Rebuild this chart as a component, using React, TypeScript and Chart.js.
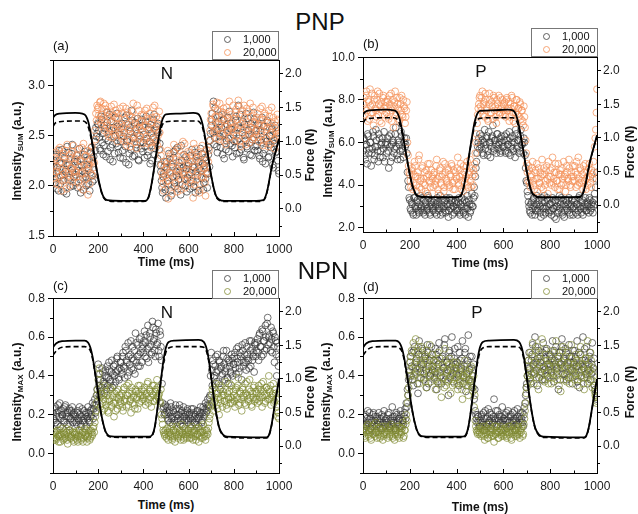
import React, { useEffect, useRef } from "react";
import { Chart, registerables } from "chart.js";

Chart.register(...registerables);

// ---------- DATA ----------
// Two interleaved acquisitions per series: set A sampled at i*STEP_MS, set B at i*STEP_MS + STEP_MS/2
const STEP_MS = 5;

const PNP_N_1000 = [
  2.12, 2.25, 2.03, 2.31, 2.18, 1.95, 2.22, 2.10, 2.36, 2.05, 2.28, 2.14, 1.92, 2.20, 2.33, 2.08, 2.17, 2.41, 2.00, 2.24,
  2.11, 2.30, 1.98, 2.19, 2.06, 2.27, 2.15, 1.96, 2.34, 2.09, 2.21, 2.02, 2.26, 2.13, 2.38, 2.04, 2.29, 2.44, 2.58, 2.52,
  2.61, 2.48, 2.35, 2.66, 2.52, 2.40, 2.57, 2.29, 2.63, 2.45, 2.71, 2.38, 2.55, 2.24, 2.49, 2.68, 2.42, 2.59, 2.33, 2.51,
  2.44, 2.62, 2.27, 2.53, 2.39, 2.70, 2.46, 2.21, 2.58, 2.36, 2.65, 2.48, 2.30, 2.56, 2.41, 2.67, 2.25, 2.50, 2.37, 2.60,
  2.43, 2.28, 2.64, 2.47, 2.34, 2.58, 2.22, 2.52, 2.40, 2.66, 2.31, 2.55, 2.45, 2.62, 2.36, 2.20, 2.05, 1.93, 2.12, 2.24,
  1.88, 2.16, 2.02, 2.27, 1.95, 2.21, 2.09, 2.34, 1.99, 2.14, 2.38, 2.06, 2.19, 1.91, 2.25, 2.11, 2.31, 2.00, 2.17, 2.08,
  2.22, 1.97, 2.13, 2.36, 2.04, 2.18, 1.93, 2.29, 2.10, 2.24, 2.01, 2.15, 2.32, 1.96, 2.20, 2.07, 2.26, 2.12, 2.38, 2.45,
  2.60, 2.72, 2.84, 2.48, 2.63, 2.39, 2.55, 2.70, 2.44, 2.58, 2.31, 2.66, 2.50, 2.36, 2.61, 2.47, 2.74, 2.42, 2.56, 2.29,
  2.53, 2.38, 2.69, 2.45, 2.80, 2.33, 2.57, 2.41, 2.64, 2.26, 2.50, 2.72, 2.37, 2.55, 2.43, 2.62, 2.30, 2.48, 2.66, 2.39,
  2.51, 2.35, 2.60, 2.27, 2.46, 2.68, 2.32, 2.54, 2.22, 2.44, 2.63, 2.29, 2.49, 2.38, 2.57, 2.18, 2.42, 2.33, 2.52, 2.25,
  2.12,
];
const PNP_N_1000_B = [
  2.19, 2.07, 2.29, 1.97, 2.14, 2.35, 2.02, 2.23, 2.11, 1.94, 2.27, 2.16, 2.39, 2.06, 2.21, 1.99, 2.32, 2.13, 2.09, 2.26,
  2.03, 2.24, 2.15, 2.37, 1.93, 2.20, 2.08, 2.31, 2.12, 2.00, 2.25, 2.17, 1.95, 2.33, 2.10, 2.22, 2.06, 2.35, 2.49, 2.62,
  2.55, 2.37, 2.69, 2.43, 2.31, 2.60, 2.47, 2.73, 2.34, 2.54, 2.26, 2.64, 2.41, 2.58, 2.32, 2.50, 2.72, 2.39, 2.61, 2.28,
  2.57, 2.35, 2.49, 2.68, 2.23, 2.44, 2.61, 2.32, 2.54, 2.75, 2.29, 2.47, 2.63, 2.38, 2.52, 2.26, 2.59, 2.43, 2.66, 2.34,
  2.51, 2.39, 2.69, 2.30, 2.56, 2.44, 2.61, 2.25, 2.48, 2.71, 2.37, 2.59, 2.27, 2.53, 2.42, 2.14, 1.98, 2.09, 2.19, 1.96,
  2.24, 2.05, 2.32, 2.13, 1.90, 2.19, 2.28, 2.03, 2.36, 2.10, 1.97, 2.23, 2.15, 2.40, 2.01, 2.18, 2.07, 2.29, 1.94, 2.20,
  2.11, 2.30, 2.05, 2.19, 1.99, 2.33, 2.14, 2.25, 1.95, 2.17, 2.37, 2.08, 2.22, 2.03, 2.28, 2.12, 1.98, 2.31, 2.19, 2.52,
  2.66, 2.53, 2.41, 2.77, 2.56, 2.33, 2.64, 2.49, 2.38, 2.71, 2.52, 2.27, 2.59, 2.45, 2.68, 2.34, 2.57, 2.62, 2.40, 2.51,
  2.44, 2.65, 2.32, 2.58, 2.47, 2.71, 2.36, 2.53, 2.28, 2.61, 2.45, 2.39, 2.67, 2.51, 2.31, 2.58, 2.46, 2.73, 2.35, 2.55,
  2.40, 2.62, 2.30, 2.55, 2.43, 2.24, 2.59, 2.36, 2.47, 2.65, 2.28, 2.50, 2.41, 2.56, 2.21, 2.45, 2.60, 2.34, 2.47, 2.15,
];

const PNP_N_20000 = [
  2.20, 2.08, 2.33, 2.14, 2.26, 2.01, 2.38, 2.17, 2.05, 2.29, 2.12, 2.35, 1.97, 2.23, 2.10, 2.31, 2.18, 2.04, 2.40, 2.15,
  2.27, 2.09, 2.36, 2.19, 1.99, 2.24, 2.13, 2.42, 2.06, 2.30, 2.16, 1.91, 2.21, 2.34, 2.11, 2.25, 2.18, 2.55, 2.72, 2.80,
  2.78, 2.66, 2.84, 2.71, 2.59, 2.82, 2.64, 2.76, 2.52, 2.69, 2.57, 2.74, 2.48, 2.63, 2.81, 2.55, 2.67, 2.44, 2.72, 2.58,
  2.61, 2.47, 2.79, 2.53, 2.66, 2.40, 2.73, 2.56, 2.45, 2.69, 2.51, 2.82, 2.43, 2.62, 2.37, 2.58, 2.75, 2.49, 2.64, 2.54,
  2.70, 2.46, 2.59, 2.77, 2.42, 2.65, 2.52, 2.38, 2.68, 2.57, 2.80, 2.44, 2.61, 2.50, 2.74, 2.36, 2.21, 2.08, 1.95, 2.16,
  2.04, 2.22, 1.87, 2.13, 2.31, 2.00, 2.18, 2.41, 2.09, 2.26, 1.94, 2.15, 2.35, 2.07, 2.20, 2.44, 2.11, 1.98, 2.28, 2.16,
  2.10, 2.33, 2.02, 2.24, 1.88, 2.19, 2.37, 2.06, 2.14, 2.29, 1.96, 2.21, 2.40, 2.08, 2.17, 1.90, 2.26, 2.12, 2.35, 2.55,
  2.72, 2.60, 2.79, 2.53, 2.68, 2.83, 2.57, 2.46, 2.74, 2.62, 2.51, 2.77, 2.65, 2.41, 2.70, 2.56, 2.84, 2.49, 2.63, 2.58,
  2.67, 2.45, 2.76, 2.55, 2.85, 2.60, 2.39, 2.71, 2.52, 2.80, 2.47, 2.64, 2.57, 2.74, 2.43, 2.69, 2.53, 2.78, 2.48, 2.62,
  2.56, 2.72, 2.44, 2.65, 2.51, 2.79, 2.40, 2.60, 2.70, 2.47, 2.58, 2.75, 2.42, 2.63, 2.53, 2.68, 2.37, 2.57, 2.49, 2.66,
  2.50,
];
const PNP_N_20000_B = [
  2.11, 2.28, 2.02, 2.19, 2.36, 2.09, 2.24, 1.95, 2.15, 2.32, 2.06, 2.21, 2.41, 2.13, 2.00, 2.27, 2.17, 2.34, 2.08, 2.22,
  2.14, 2.31, 2.03, 2.25, 2.12, 2.38, 1.96, 2.20, 2.29, 2.07, 2.35, 2.18, 2.02, 2.26, 2.39, 2.10, 2.23, 2.46, 2.65, 2.76,
  2.70, 2.83, 2.62, 2.77, 2.68, 2.55, 2.80, 2.60, 2.73, 2.49, 2.66, 2.79, 2.57, 2.70, 2.51, 2.75, 2.61, 2.68, 2.53, 2.77,
  2.50, 2.72, 2.59, 2.44, 2.77, 2.62, 2.52, 2.70, 2.39, 2.60, 2.74, 2.48, 2.67, 2.55, 2.80, 2.46, 2.63, 2.57, 2.71, 2.42,
  2.60, 2.75, 2.49, 2.67, 2.55, 2.72, 2.43, 2.63, 2.78, 2.47, 2.58, 2.69, 2.40, 2.66, 2.53, 2.30, 2.12, 2.02, 2.24, 2.10,
  2.19, 2.35, 2.05, 2.27, 2.12, 1.92, 2.23, 2.33, 2.02, 2.17, 2.38, 2.10, 2.25, 1.96, 2.30, 2.14, 2.42, 2.05, 2.21, 2.34,
  2.25, 2.06, 2.30, 2.15, 2.42, 2.01, 2.27, 2.11, 2.33, 1.93, 2.23, 2.09, 2.31, 2.18, 2.03, 2.36, 2.14, 2.24, 2.45, 2.66,
  2.64, 2.81, 2.55, 2.69, 2.47, 2.75, 2.61, 2.82, 2.52, 2.66, 2.73, 2.44, 2.59, 2.78, 2.54, 2.67, 2.48, 2.71, 2.57, 2.80,
  2.59, 2.73, 2.50, 2.66, 2.79, 2.44, 2.62, 2.75, 2.55, 2.68, 2.41, 2.77, 2.60, 2.50, 2.82, 2.58, 2.46, 2.70, 2.63, 2.54,
  2.68, 2.48, 2.61, 2.77, 2.54, 2.66, 2.45, 2.72, 2.56, 2.63, 2.39, 2.69, 2.51, 2.78, 2.59, 2.46, 2.64, 2.54, 2.71, 2.52,
];

const PNP_P_1000 = [
  5.6, 6.1, 5.2, 5.9, 6.4, 5.5, 6.0, 4.9, 5.7, 6.3, 5.4, 6.6, 5.8, 5.1, 6.2, 5.6, 6.0, 5.3, 6.5, 5.9,
  5.5, 6.2, 4.8, 5.8, 6.4, 5.3, 6.0, 5.7, 6.7, 5.4, 6.1, 5.9, 5.2, 6.3, 5.6, 6.0, 5.8, 6.2, 4.6, 3.9,
  3.3, 2.8, 3.1, 2.6, 3.4, 2.9, 3.2, 3.0, 2.7, 3.5, 3.0, 2.8, 3.3, 2.6, 3.1, 2.9, 3.4, 2.7, 3.2, 3.0,
  2.8, 3.3, 3.0, 2.6, 3.2, 2.9, 3.5, 3.1, 2.7, 3.0, 3.3, 2.8, 3.1, 2.5, 3.4, 2.9, 3.2, 3.0, 2.7, 3.3,
  3.1, 2.8, 3.4, 2.6, 3.0, 3.2, 2.7, 3.3, 2.9, 3.5, 2.5, 3.1, 2.8, 3.6, 3.0, 3.9, 4.4, 5.1, 5.8, 6.2,
  6.4, 5.8, 6.1, 5.4, 6.6, 5.9, 6.3, 5.6, 6.0, 5.3, 6.2, 6.8, 5.7, 6.1, 5.5, 6.4, 5.9, 6.2, 5.6, 6.0,
  5.8, 6.3, 5.5, 6.1, 5.9, 6.5, 5.4, 6.0, 5.7, 6.2, 5.3, 6.4, 5.8, 6.1, 5.6, 6.6, 5.9, 5.5, 6.0, 4.8,
  4.1, 3.5, 3.0, 2.7, 3.2, 2.9, 3.4, 2.6, 3.1, 2.8, 3.3, 3.0, 2.5, 3.2, 2.9, 3.5, 2.7, 3.0, 3.3, 2.8,
  3.1, 2.6, 3.4, 2.9, 3.2, 2.4, 3.0, 2.8, 3.5, 3.1, 2.7, 3.3, 2.5, 3.0, 3.2, 2.8, 3.4, 2.6, 3.1, 2.9,
  3.0, 3.3, 2.7, 3.1, 2.8, 3.5, 2.9, 3.2, 2.6, 3.0, 3.4, 2.8, 3.1, 2.7, 3.3, 2.9, 3.2, 3.0, 3.6, 3.9,
  4.6,
];
const PNP_P_1000_B = [
  6.2, 5.4, 5.9, 5.0, 6.3, 5.7, 6.0, 5.5, 6.5, 5.2, 5.8, 6.1, 5.6, 6.4, 5.3, 5.9, 6.2, 5.7, 5.1, 6.0,
  5.9, 5.6, 6.3, 5.1, 5.9, 6.1, 5.5, 6.4, 5.8, 5.2, 6.0, 5.6, 6.5, 5.7, 5.3, 6.2, 5.9, 5.5, 4.2, 3.4,
  2.9, 3.2, 2.7, 3.4, 3.0, 2.6, 3.3, 2.8, 3.1, 2.9, 3.4, 2.7, 3.0, 3.2, 2.8, 3.5, 3.0, 2.6, 3.1, 2.9,
  3.2, 2.7, 3.1, 3.4, 2.8, 3.0, 2.6, 3.3, 2.9, 3.2, 2.7, 3.4, 3.0, 2.8, 3.1, 3.3, 2.6, 3.0, 3.2, 2.8,
  2.9, 3.2, 2.7, 3.1, 3.4, 2.8, 3.0, 2.6, 3.2, 2.9, 3.3, 2.7, 3.1, 3.0, 3.4, 3.5, 4.8, 5.5, 6.0, 5.7,
  5.9, 6.3, 5.5, 6.0, 5.7, 6.2, 5.4, 6.5, 6.0, 5.8, 6.3, 5.6, 6.1, 5.9, 6.4, 5.7, 6.0, 5.5, 6.3, 5.8,
  6.1, 5.6, 6.4, 5.9, 5.5, 6.2, 5.8, 6.3, 5.6, 6.0, 6.6, 5.7, 6.1, 5.5, 6.3, 5.9, 6.0, 6.2, 5.4, 4.2,
  3.7, 3.2, 2.8, 3.1, 2.6, 3.3, 3.0, 2.8, 3.5, 2.9, 3.1, 2.7, 3.4, 3.0, 2.6, 3.2, 2.9, 3.4, 2.7, 3.1,
  2.8, 3.2, 2.9, 2.5, 3.3, 3.0, 2.7, 3.2, 2.9, 3.4, 2.6, 3.1, 2.8, 3.3, 2.9, 3.1, 2.7, 3.0, 3.3, 2.6,
  3.2, 2.9, 3.1, 2.6, 3.4, 3.0, 2.7, 3.3, 2.9, 3.1, 2.8, 3.2, 3.0, 3.4, 2.8, 3.1, 2.7, 3.3, 3.1, 4.3,
];

const PNP_P_20000 = [
  7.2, 8.1, 7.6, 8.4, 7.0, 7.9, 8.5, 7.4, 7.8, 6.8, 8.2, 7.5, 8.0, 7.3, 8.3, 7.7, 6.9, 8.1, 7.6, 7.9,
  7.4, 8.0, 7.1, 7.8, 8.3, 7.5, 6.7, 7.9, 7.3, 8.1, 7.6, 7.0, 7.8, 8.2, 7.2, 7.7, 6.9, 7.5, 6.0, 4.9,
  4.5, 3.9, 4.8, 4.1, 5.1, 4.4, 3.7, 4.6, 5.4, 4.2, 3.8, 4.9, 4.3, 4.0, 4.7, 3.6, 4.5, 5.0, 4.1, 4.4,
  3.9, 4.6, 4.2, 5.2, 3.8, 4.4, 4.8, 4.0, 4.5, 3.7, 5.0, 4.3, 4.1, 4.7, 3.9, 4.4, 4.9, 3.8, 4.2, 4.6,
  4.3, 5.3, 4.0, 4.7, 3.8, 4.5, 4.9, 4.1, 4.4, 5.1, 3.9, 4.6, 4.2, 4.8, 4.0, 4.5, 5.5, 6.4, 7.3, 7.8,
  8.2, 7.5, 8.4, 7.8, 7.2, 8.0, 7.6, 7.0, 8.3, 7.4, 7.9, 7.1, 8.1, 7.7, 6.9, 7.8, 8.2, 7.3, 7.6, 8.0,
  7.5, 7.9, 7.2, 8.1, 7.6, 7.0, 7.8, 8.2, 7.4, 7.7, 6.9, 8.0, 7.3, 7.6, 7.9, 7.1, 7.5, 6.8, 7.2, 6.1,
  5.0, 4.2, 4.7, 3.9, 4.5, 5.1, 4.0, 4.6, 4.3, 3.7, 4.8, 4.1, 4.4, 5.2, 3.8, 4.5, 4.2, 4.9, 3.6, 4.4,
  4.7, 4.0, 5.3, 4.3, 3.9, 4.6, 4.2, 5.0, 3.8, 4.5, 4.8, 4.1, 4.4, 3.7, 4.9, 4.3, 5.2, 4.0, 4.6, 4.2,
  4.4, 4.9, 3.9, 4.5, 5.3, 4.1, 4.7, 4.2, 3.8, 4.6, 5.0, 4.3, 4.0, 4.8, 4.4, 3.9, 4.5, 5.1, 5.8, 6.6,
  8.5,
];
const PNP_P_20000_B = [
  7.8, 7.3, 8.2, 7.5, 8.0, 7.1, 7.7, 8.3, 7.4, 8.0, 7.6, 7.2, 8.4, 7.8, 7.0, 7.9, 7.5, 8.2, 7.3, 7.7,
  7.9, 7.2, 8.2, 7.6, 7.0, 8.0, 7.7, 8.4, 7.4, 7.8, 7.1, 8.1, 7.5, 7.3, 8.0, 7.6, 7.2, 7.9, 5.4, 4.6,
  4.2, 4.7, 3.8, 4.5, 4.9, 4.0, 4.4, 5.2, 3.9, 4.3, 4.8, 4.1, 4.6, 3.7, 4.4, 5.0, 4.2, 3.9, 4.7, 4.3,
  4.5, 4.0, 4.9, 4.3, 3.6, 4.7, 4.1, 4.4, 5.1, 3.9, 4.6, 4.2, 4.8, 4.0, 4.5, 5.0, 4.1, 4.7, 3.8, 4.4,
  4.8, 4.1, 4.4, 5.0, 4.2, 3.7, 4.6, 4.3, 4.9, 4.0, 4.5, 5.2, 3.9, 4.4, 4.7, 5.0, 6.0, 6.9, 7.6, 8.1,
  7.7, 8.1, 7.3, 7.9, 8.3, 7.5, 7.1, 7.8, 8.0, 7.4, 7.7, 8.2, 7.5, 7.2, 8.0, 7.6, 7.4, 8.1, 7.7, 7.3,
  7.8, 7.3, 8.0, 7.5, 7.9, 7.2, 7.6, 8.1, 7.0, 7.7, 7.4, 8.0, 7.6, 7.2, 7.8, 7.5, 7.0, 7.7, 6.7, 5.5,
  4.6, 4.9, 4.1, 4.4, 4.8, 4.2, 3.8, 4.7, 5.0, 4.3, 4.1, 4.6, 3.9, 4.5, 4.8, 4.0, 4.7, 4.3, 5.1, 4.1,
  4.4, 4.8, 4.1, 4.6, 5.0, 4.2, 3.8, 4.5, 4.7, 4.0, 4.3, 5.1, 4.5, 4.0, 4.6, 4.2, 4.8, 3.9, 4.4, 4.9,
  4.2, 4.6, 5.1, 4.0, 4.3, 4.8, 4.1, 4.5, 4.9, 4.2, 3.8, 4.6, 4.4, 5.0, 4.1, 4.7, 4.3, 4.6, 6.2, 7.4,
];

const NPN_N_1000 = [
  0.21, 0.17, 0.24, 0.19, 0.15, 0.22, 0.26, 0.18, 0.20, 0.23, 0.16, 0.25, 0.19, 0.21, 0.14, 0.22, 0.18, 0.24, 0.20, 0.17,
  0.19, 0.15, 0.22, 0.17, 0.20, 0.14, 0.23, 0.18, 0.16, 0.21, 0.19, 0.24, 0.17, 0.22, 0.20, 0.26, 0.23, 0.28, 0.25, 0.33,
  0.46, 0.30, 0.38, 0.34, 0.42, 0.36, 0.40, 0.33, 0.45, 0.39, 0.43, 0.37, 0.48, 0.41, 0.35, 0.46, 0.42, 0.50, 0.39, 0.44,
  0.47, 0.41, 0.52, 0.44, 0.55, 0.48, 0.40, 0.50, 0.46, 0.58, 0.49, 0.43, 0.53, 0.62, 0.47, 0.56, 0.51, 0.45, 0.60, 0.54,
  0.52, 0.63, 0.57, 0.49, 0.66, 0.55, 0.60, 0.51, 0.68, 0.58, 0.53, 0.64, 0.56, 0.67, 0.50, 0.61, 0.48, 0.26, 0.24, 0.21,
  0.20, 0.24, 0.17, 0.22, 0.26, 0.18, 0.15, 0.21, 0.19, 0.23, 0.16, 0.20, 0.25, 0.17, 0.22, 0.14, 0.19, 0.21, 0.18, 0.23,
  0.17, 0.21, 0.15, 0.19, 0.23, 0.16, 0.20, 0.18, 0.22, 0.14, 0.19, 0.21, 0.17, 0.24, 0.20, 0.26, 0.22, 0.28, 0.25, 0.30,
  0.52, 0.35, 0.46, 0.40, 0.50, 0.37, 0.43, 0.48, 0.33, 0.45, 0.41, 0.53, 0.38, 0.44, 0.49, 0.36, 0.47, 0.42, 0.51, 0.40,
  0.46, 0.52, 0.41, 0.49, 0.55, 0.44, 0.50, 0.38, 0.53, 0.47, 0.57, 0.43, 0.51, 0.48, 0.58, 0.45, 0.54, 0.50, 0.42, 0.56,
  0.53, 0.59, 0.48, 0.62, 0.55, 0.64, 0.51, 0.58, 0.66, 0.54, 0.70, 0.60, 0.57, 0.65, 0.52, 0.62, 0.47, 0.58, 0.40, 0.55,
  0.50,
];
const NPN_N_1000_B = [
  0.18, 0.23, 0.16, 0.21, 0.25, 0.19, 0.14, 0.22, 0.20, 0.17, 0.24, 0.21, 0.15, 0.19, 0.23, 0.18, 0.22, 0.16, 0.21, 0.20,
  0.16, 0.21, 0.18, 0.24, 0.15, 0.19, 0.17, 0.22, 0.20, 0.14, 0.18, 0.21, 0.16, 0.19, 0.23, 0.18, 0.25, 0.21, 0.30, 0.27,
  0.35, 0.41, 0.32, 0.44, 0.37, 0.31, 0.43, 0.39, 0.35, 0.47, 0.38, 0.42, 0.34, 0.45, 0.40, 0.37, 0.49, 0.43, 0.38, 0.47,
  0.43, 0.50, 0.45, 0.39, 0.53, 0.47, 0.57, 0.42, 0.51, 0.44, 0.55, 0.48, 0.41, 0.57, 0.50, 0.45, 0.59, 0.52, 0.47, 0.56,
  0.58, 0.50, 0.61, 0.54, 0.47, 0.62, 0.56, 0.52, 0.65, 0.59, 0.50, 0.62, 0.57, 0.53, 0.63, 0.55, 0.36, 0.23, 0.20, 0.25,
  0.22, 0.18, 0.21, 0.16, 0.24, 0.19, 0.22, 0.17, 0.25, 0.20, 0.18, 0.23, 0.15, 0.21, 0.19, 0.24, 0.17, 0.20, 0.22, 0.16,
  0.20, 0.18, 0.23, 0.17, 0.21, 0.19, 0.15, 0.22, 0.18, 0.20, 0.24, 0.16, 0.21, 0.19, 0.23, 0.21, 0.25, 0.24, 0.29, 0.40,
  0.43, 0.48, 0.39, 0.45, 0.42, 0.51, 0.36, 0.47, 0.44, 0.40, 0.50, 0.46, 0.42, 0.53, 0.39, 0.48, 0.45, 0.41, 0.49, 0.46,
  0.50, 0.44, 0.54, 0.47, 0.42, 0.52, 0.48, 0.56, 0.45, 0.51, 0.47, 0.55, 0.49, 0.44, 0.53, 0.58, 0.48, 0.52, 0.57, 0.50,
  0.57, 0.52, 0.61, 0.55, 0.50, 0.63, 0.58, 0.53, 0.60, 0.67, 0.56, 0.61, 0.53, 0.59, 0.63, 0.55, 0.60, 0.51, 0.57, 0.45,
];

const NPN_N_20000 = [
  0.09, 0.07, 0.11, 0.08, 0.12, 0.06, 0.10, 0.09, 0.13, 0.07, 0.10, 0.08, 0.11, 0.05, 0.09, 0.12, 0.08, 0.10, 0.07, 0.11,
  0.08, 0.10, 0.06, 0.12, 0.09, 0.07, 0.11, 0.08, 0.13, 0.10, 0.06, 0.09, 0.12, 0.08, 0.11, 0.10, 0.14, 0.16, 0.22, 0.30,
  0.38, 0.44, 0.24, 0.31, 0.22, 0.28, 0.35, 0.25, 0.30, 0.21, 0.27, 0.33, 0.24, 0.29, 0.19, 0.26, 0.32, 0.23, 0.28, 0.30,
  0.26, 0.31, 0.22, 0.34, 0.28, 0.24, 0.30, 0.36, 0.27, 0.21, 0.32, 0.29, 0.25, 0.33, 0.28, 0.23, 0.31, 0.35, 0.27, 0.30,
  0.29, 0.34, 0.25, 0.31, 0.37, 0.28, 0.32, 0.24, 0.35, 0.30, 0.27, 0.33, 0.38, 0.29, 0.31, 0.26, 0.20, 0.15, 0.11, 0.09,
  0.10, 0.13, 0.07, 0.11, 0.09, 0.14, 0.08, 0.12, 0.06, 0.10, 0.13, 0.09, 0.11, 0.07, 0.15, 0.10, 0.08, 0.12, 0.09, 0.11,
  0.12, 0.08, 0.10, 0.14, 0.07, 0.11, 0.09, 0.13, 0.10, 0.06, 0.12, 0.08, 0.11, 0.15, 0.09, 0.07, 0.12, 0.10, 0.16, 0.20,
  0.26, 0.33, 0.22, 0.29, 0.36, 0.25, 0.31, 0.20, 0.28, 0.34, 0.24, 0.30, 0.27, 0.37, 0.23, 0.29, 0.32, 0.26, 0.35, 0.28,
  0.30, 0.24, 0.34, 0.28, 0.39, 0.26, 0.31, 0.22, 0.33, 0.29, 0.36, 0.25, 0.30, 0.27, 0.38, 0.32, 0.24, 0.29, 0.35, 0.28,
  0.31, 0.26, 0.35, 0.29, 0.33, 0.24, 0.37, 0.30, 0.27, 0.34, 0.28, 0.40, 0.32, 0.25, 0.30, 0.36, 0.27, 0.31, 0.22, 0.19,
  0.18,
];
const NPN_N_20000_B = [
  0.08, 0.11, 0.07, 0.10, 0.09, 0.12, 0.06, 0.10, 0.08, 0.11, 0.09, 0.13, 0.07, 0.10, 0.12, 0.08, 0.09, 0.11, 0.06, 0.10,
  0.11, 0.07, 0.09, 0.12, 0.08, 0.10, 0.06, 0.11, 0.09, 0.12, 0.08, 0.10, 0.07, 0.12, 0.09, 0.13, 0.11, 0.19, 0.26, 0.33,
  0.41, 0.29, 0.34, 0.26, 0.30, 0.23, 0.27, 0.32, 0.22, 0.28, 0.34, 0.25, 0.30, 0.26, 0.31, 0.22, 0.29, 0.33, 0.25, 0.27,
  0.29, 0.24, 0.33, 0.27, 0.30, 0.35, 0.25, 0.31, 0.28, 0.34, 0.26, 0.30, 0.23, 0.32, 0.29, 0.35, 0.26, 0.30, 0.33, 0.28,
  0.32, 0.27, 0.30, 0.36, 0.26, 0.33, 0.29, 0.31, 0.27, 0.35, 0.32, 0.28, 0.34, 0.30, 0.27, 0.33, 0.18, 0.12, 0.10, 0.12,
  0.08, 0.11, 0.09, 0.13, 0.10, 0.07, 0.12, 0.09, 0.11, 0.14, 0.08, 0.10, 0.12, 0.09, 0.11, 0.07, 0.13, 0.10, 0.08, 0.12,
  0.10, 0.13, 0.08, 0.11, 0.09, 0.12, 0.07, 0.10, 0.13, 0.09, 0.11, 0.14, 0.08, 0.10, 0.12, 0.09, 0.11, 0.13, 0.18, 0.24,
  0.30, 0.25, 0.34, 0.27, 0.31, 0.23, 0.29, 0.35, 0.26, 0.30, 0.32, 0.27, 0.33, 0.25, 0.31, 0.28, 0.36, 0.29, 0.26, 0.32,
  0.27, 0.33, 0.29, 0.35, 0.25, 0.32, 0.28, 0.34, 0.30, 0.26, 0.31, 0.37, 0.28, 0.33, 0.29, 0.25, 0.31, 0.34, 0.27, 0.32,
  0.28, 0.33, 0.27, 0.31, 0.36, 0.29, 0.32, 0.26, 0.34, 0.30, 0.33, 0.28, 0.35, 0.29, 0.31, 0.26, 0.33, 0.28, 0.24, 0.21,
];

const NPN_P_1000 = [
  0.17, 0.13, 0.20, 0.15, 0.22, 0.12, 0.18, 0.16, 0.14, 0.21, 0.17, 0.11, 0.19, 0.15, 0.18, 0.13, 0.20, 0.16, 0.22, 0.14,
  0.18, 0.15, 0.21, 0.13, 0.17, 0.24, 0.16, 0.19, 0.12, 0.20, 0.15, 0.18, 0.22, 0.14, 0.17, 0.19, 0.23, 0.26, 0.33, 0.38,
  0.47, 0.40, 0.52, 0.35, 0.55, 0.44, 0.49, 0.31, 0.58, 0.42, 0.46, 0.53, 0.38, 0.50, 0.43, 0.56, 0.36, 0.48, 0.41, 0.51,
  0.45, 0.39, 0.54, 0.33, 0.48, 0.57, 0.42, 0.36, 0.50, 0.44, 0.59, 0.40, 0.47, 0.30, 0.53, 0.43, 0.60, 0.37, 0.49, 0.46,
  0.41, 0.55, 0.35, 0.48, 0.44, 0.58, 0.39, 0.52, 0.32, 0.46, 0.61, 0.43, 0.37, 0.50, 0.34, 0.28, 0.22, 0.18, 0.20, 0.16,
  0.14, 0.19, 0.16, 0.21, 0.12, 0.18, 0.15, 0.23, 0.17, 0.13, 0.20, 0.16, 0.28, 0.18, 0.14, 0.22, 0.17, 0.19, 0.12, 0.24,
  0.15, 0.20, 0.17, 0.13, 0.22, 0.16, 0.19, 0.14, 0.21, 0.18, 0.12, 0.17, 0.23, 0.15, 0.19, 0.16, 0.21, 0.14, 0.24, 0.30,
  0.36, 0.44, 0.52, 0.39, 0.48, 0.56, 0.42, 0.60, 0.47, 0.35, 0.53, 0.45, 0.50, 0.38, 0.57, 0.43, 0.49, 0.54, 0.40, 0.46,
  0.51, 0.42, 0.58, 0.37, 0.48, 0.55, 0.44, 0.33, 0.52, 0.46, 0.59, 0.41, 0.49, 0.54, 0.38, 0.47, 0.56, 0.43, 0.50, 0.36,
  0.47, 0.53, 0.40, 0.58, 0.45, 0.34, 0.51, 0.43, 0.60, 0.39, 0.48, 0.55, 0.36, 0.46, 0.52, 0.41, 0.57, 0.44, 0.35, 0.31,
  0.28,
];
const NPN_P_1000_B = [
  0.15, 0.19, 0.14, 0.18, 0.16, 0.21, 0.13, 0.17, 0.20, 0.15, 0.19, 0.14, 0.17, 0.21, 0.16, 0.18, 0.13, 0.19, 0.15, 0.17,
  0.16, 0.20, 0.14, 0.18, 0.15, 0.19, 0.17, 0.13, 0.21, 0.16, 0.18, 0.14, 0.20, 0.17, 0.15, 0.21, 0.18, 0.24, 0.30, 0.42,
  0.50, 0.45, 0.38, 0.53, 0.42, 0.47, 0.36, 0.51, 0.44, 0.39, 0.54, 0.46, 0.41, 0.49, 0.34, 0.52, 0.45, 0.40, 0.55, 0.43,
  0.48, 0.42, 0.51, 0.37, 0.46, 0.53, 0.40, 0.49, 0.44, 0.56, 0.38, 0.47, 0.43, 0.52, 0.39, 0.50, 0.45, 0.41, 0.54, 0.44,
  0.47, 0.40, 0.52, 0.43, 0.49, 0.36, 0.45, 0.54, 0.41, 0.48, 0.38, 0.50, 0.44, 0.40, 0.46, 0.33, 0.20, 0.16, 0.19, 0.14,
  0.17, 0.20, 0.15, 0.18, 0.22, 0.14, 0.19, 0.16, 0.21, 0.18, 0.15, 0.19, 0.17, 0.22, 0.15, 0.18, 0.20, 0.16, 0.19, 0.17,
  0.18, 0.15, 0.21, 0.17, 0.19, 0.14, 0.20, 0.17, 0.16, 0.22, 0.18, 0.15, 0.19, 0.17, 0.21, 0.18, 0.16, 0.20, 0.26, 0.34,
  0.40, 0.48, 0.44, 0.36, 0.51, 0.46, 0.41, 0.55, 0.43, 0.49, 0.39, 0.47, 0.42, 0.52, 0.45, 0.38, 0.53, 0.46, 0.43, 0.50,
  0.45, 0.49, 0.40, 0.53, 0.46, 0.42, 0.50, 0.47, 0.38, 0.55, 0.44, 0.48, 0.41, 0.52, 0.45, 0.39, 0.50, 0.47, 0.43, 0.53,
  0.42, 0.49, 0.45, 0.37, 0.52, 0.46, 0.40, 0.48, 0.44, 0.54, 0.41, 0.47, 0.43, 0.50, 0.38, 0.46, 0.42, 0.49, 0.33, 0.29,
];

const NPN_P_20000 = [
  0.10, 0.13, 0.08, 0.12, 0.15, 0.09, 0.11, 0.07, 0.14, 0.10, 0.12, 0.16, 0.08, 0.11, 0.13, 0.09, 0.12, 0.07, 0.10, 0.14,
  0.11, 0.08, 0.13, 0.10, 0.15, 0.09, 0.12, 0.07, 0.11, 0.14, 0.10, 0.08, 0.13, 0.11, 0.16, 0.09, 0.12, 0.20, 0.26, 0.34,
  0.43, 0.50, 0.38, 0.57, 0.46, 0.59, 0.41, 0.53, 0.36, 0.48, 0.55, 0.44, 0.39, 0.51, 0.34, 0.47, 0.42, 0.56, 0.37, 0.45,
  0.40, 0.48, 0.33, 0.44, 0.52, 0.37, 0.42, 0.29, 0.46, 0.39, 0.54, 0.35, 0.43, 0.38, 0.49, 0.31, 0.41, 0.47, 0.36, 0.44,
  0.39, 0.33, 0.45, 0.37, 0.42, 0.28, 0.40, 0.48, 0.35, 0.41, 0.30, 0.44, 0.36, 0.38, 0.32, 0.24, 0.17, 0.12, 0.10, 0.13,
  0.11, 0.09, 0.14, 0.12, 0.07, 0.10, 0.13, 0.08, 0.15, 0.11, 0.09, 0.12, 0.06, 0.10, 0.14, 0.11, 0.08, 0.13, 0.10, 0.12,
  0.09, 0.13, 0.11, 0.08, 0.14, 0.10, 0.12, 0.07, 0.11, 0.15, 0.09, 0.12, 0.10, 0.13, 0.08, 0.11, 0.14, 0.10, 0.18, 0.26,
  0.34, 0.45, 0.38, 0.52, 0.41, 0.57, 0.36, 0.47, 0.43, 0.55, 0.33, 0.49, 0.40, 0.59, 0.44, 0.37, 0.51, 0.42, 0.46, 0.39,
  0.48, 0.36, 0.53, 0.41, 0.45, 0.58, 0.38, 0.44, 0.50, 0.32, 0.47, 0.55, 0.40, 0.43, 0.37, 0.52, 0.46, 0.39, 0.56, 0.42,
  0.44, 0.38, 0.51, 0.35, 0.47, 0.42, 0.55, 0.39, 0.45, 0.33, 0.49, 0.41, 0.58, 0.37, 0.43, 0.48, 0.34, 0.40, 0.32, 0.29,
  0.27,
];
const NPN_P_20000_B = [
  0.12, 0.09, 0.11, 0.14, 0.10, 0.13, 0.08, 0.12, 0.10, 0.15, 0.09, 0.11, 0.13, 0.10, 0.08, 0.12, 0.14, 0.09, 0.11, 0.13,
  0.10, 0.12, 0.09, 0.14, 0.11, 0.08, 0.13, 0.10, 0.12, 0.09, 0.14, 0.11, 0.10, 0.13, 0.08, 0.12, 0.15, 0.17, 0.30, 0.40,
  0.47, 0.53, 0.44, 0.40, 0.52, 0.48, 0.43, 0.55, 0.39, 0.46, 0.50, 0.42, 0.48, 0.37, 0.53, 0.45, 0.40, 0.49, 0.43, 0.51,
  0.44, 0.38, 0.47, 0.41, 0.36, 0.49, 0.43, 0.39, 0.45, 0.34, 0.48, 0.42, 0.37, 0.46, 0.40, 0.44, 0.35, 0.43, 0.39, 0.47,
  0.36, 0.41, 0.38, 0.44, 0.33, 0.40, 0.37, 0.43, 0.39, 0.35, 0.42, 0.38, 0.45, 0.34, 0.40, 0.30, 0.14, 0.11, 0.12, 0.10,
  0.13, 0.10, 0.12, 0.09, 0.14, 0.11, 0.08, 0.12, 0.10, 0.13, 0.11, 0.09, 0.14, 0.10, 0.12, 0.08, 0.11, 0.14, 0.09, 0.11,
  0.12, 0.10, 0.09, 0.13, 0.11, 0.14, 0.08, 0.12, 0.10, 0.13, 0.11, 0.09, 0.14, 0.10, 0.12, 0.13, 0.09, 0.15, 0.22, 0.31,
  0.40, 0.48, 0.43, 0.37, 0.50, 0.45, 0.41, 0.53, 0.39, 0.46, 0.51, 0.42, 0.47, 0.38, 0.44, 0.54, 0.41, 0.48, 0.36, 0.45,
  0.41, 0.47, 0.39, 0.52, 0.44, 0.40, 0.49, 0.35, 0.46, 0.42, 0.53, 0.38, 0.45, 0.50, 0.41, 0.47, 0.36, 0.44, 0.49, 0.40,
  0.46, 0.41, 0.48, 0.38, 0.44, 0.51, 0.40, 0.46, 0.36, 0.43, 0.49, 0.39, 0.45, 0.42, 0.52, 0.38, 0.44, 0.35, 0.30, 0.26,
];

// Force traces (time ms, force N)
const FORCE_T_PNP = [0, 10, 30, 100, 130, 145, 155, 165, 175, 185, 195, 205, 215, 225, 240, 300, 400, 415, 425, 435, 445, 455, 465, 475, 485, 500, 550, 620, 640, 652, 662, 672, 682, 692, 702, 712, 722, 735, 760, 900, 930, 940, 950, 960, 970, 985, 1000];
const FORCE_SOLID_PNP = [1.35, 1.39, 1.41, 1.42, 1.41, 1.38, 1.30, 1.15, 0.95, 0.75, 0.55, 0.38, 0.25, 0.17, 0.13, 0.12, 0.12, 0.13, 0.20, 0.35, 0.55, 0.78, 1.00, 1.20, 1.33, 1.40, 1.41, 1.42, 1.41, 1.36, 1.25, 1.08, 0.88, 0.66, 0.46, 0.30, 0.19, 0.14, 0.12, 0.12, 0.13, 0.18, 0.30, 0.48, 0.65, 0.85, 1.04];
const FORCE_DASH_PNP = [1.22, 1.27, 1.29, 1.30, 1.30, 1.28, 1.22, 1.10, 0.93, 0.74, 0.54, 0.37, 0.24, 0.16, 0.12, 0.11, 0.11, 0.12, 0.19, 0.34, 0.54, 0.76, 0.98, 1.15, 1.25, 1.29, 1.30, 1.30, 1.30, 1.27, 1.20, 1.05, 0.86, 0.65, 0.45, 0.29, 0.18, 0.13, 0.11, 0.11, 0.12, 0.17, 0.29, 0.47, 0.64, 0.84, 1.02];

const FORCE_T_NPN = [0, 15, 40, 100, 140, 155, 165, 175, 185, 195, 205, 215, 225, 235, 250, 300, 425, 440, 450, 460, 470, 480, 490, 500, 512, 540, 645, 667, 677, 687, 697, 707, 717, 727, 737, 752, 770, 935, 945, 955, 965, 975, 985, 1000];
const FORCE_SOLID_NPN = [1.47, 1.53, 1.56, 1.57, 1.57, 1.54, 1.47, 1.33, 1.12, 0.90, 0.65, 0.45, 0.30, 0.20, 0.15, 0.14, 0.14, 0.17, 0.28, 0.50, 0.78, 1.05, 1.30, 1.47, 1.55, 1.57, 1.58, 1.55, 1.48, 1.33, 1.10, 0.85, 0.60, 0.40, 0.26, 0.17, 0.14, 0.13, 0.13, 0.16, 0.28, 0.48, 0.70, 1.00];
const FORCE_DASH_NPN = [1.35, 1.42, 1.47, 1.48, 1.48, 1.46, 1.42, 1.30, 1.10, 0.88, 0.64, 0.44, 0.29, 0.19, 0.14, 0.13, 0.13, 0.16, 0.27, 0.49, 0.77, 1.03, 1.25, 1.40, 1.46, 1.48, 1.48, 1.47, 1.43, 1.30, 1.08, 0.84, 0.59, 0.39, 0.25, 0.16, 0.13, 0.12, 0.12, 0.15, 0.27, 0.47, 0.68, 0.98];

const SERIES_LABELS = ["1,000", "20,000"];

// ---------- STYLE ----------
const FONT = '"Liberation Sans", Arial, Helvetica, sans-serif';
const GRAY = "rgba(55,55,55,0.78)";
const ORANGE = "rgba(244,146,90,0.82)";
const OLIVE = "rgba(128,138,48,0.78)";

type PanelCfg = {
  id: string;
  l: number; t: number; r: number; b: number;
  yMin: number; yMax: number; yStep: number;
  low: number[]; lowB: number[]; high: number[]; highB: number[]; highColor: string;
  fT: number[]; fS: number[]; fD: number[];
};

const PANELS: PanelCfg[] = [
  { id: "a", l: 53, t: 60, r: 279, b: 236, yMin: 1.5, yMax: 3.25, yStep: 0.5, low: PNP_N_1000, lowB: PNP_N_1000_B, high: PNP_N_20000, highB: PNP_N_20000_B, highColor: ORANGE, fT: FORCE_T_PNP, fS: FORCE_SOLID_PNP, fD: FORCE_DASH_PNP },
  { id: "b", l: 363, t: 57, r: 597, b: 232, yMin: 1.8, yMax: 10, yStep: 2, low: PNP_P_1000, lowB: PNP_P_1000_B, high: PNP_P_20000, highB: PNP_P_20000_B, highColor: ORANGE, fT: FORCE_T_PNP, fS: FORCE_SOLID_PNP, fD: FORCE_DASH_PNP },
  { id: "c", l: 53, t: 298, r: 279, b: 473, yMin: -0.1, yMax: 0.8, yStep: 0.2, low: NPN_N_1000, lowB: NPN_N_1000_B, high: NPN_N_20000, highB: NPN_N_20000_B, highColor: OLIVE, fT: FORCE_T_NPN, fS: FORCE_SOLID_NPN, fD: FORCE_DASH_NPN },
  { id: "d", l: 363, t: 298, r: 597, b: 473, yMin: -0.1, yMax: 0.8, yStep: 0.2, low: NPN_P_1000, lowB: NPN_P_1000_B, high: NPN_P_20000, highB: NPN_P_20000_B, highColor: OLIVE, fT: FORCE_T_NPN, fS: FORCE_SOLID_NPN, fD: FORCE_DASH_NPN },
];

const PAD_L = 45, PAD_R = 40, PAD_T = 10, PAD_B = 25;

const decorPlugin = {
  id: "decor",
  afterDraw(chart: any) {
    const { ctx, chartArea: a } = chart;
    const sx = chart.scales.x, sy = chart.scales.y, sr = chart.scales.y2;
    ctx.save();
    ctx.strokeStyle = "#000";
    ctx.lineWidth = 1;
    ctx.beginPath();
    const top = Math.round(a.top) + 0.5;
    ctx.moveTo(a.left, top);
    ctx.lineTo(a.right, top);
    const bottom = Math.round(a.bottom);
    const xt = sx.ticks.map((t: any) => t.value);
    const xs = xt[1] - xt[0];
    xt.forEach((v: number) => {
      const p = Math.round(sx.getPixelForValue(v)) + 0.5;
      ctx.moveTo(p, bottom); ctx.lineTo(p, bottom - 4);
    });
    for (let v = xt[0] + xs / 2; v < sx.max; v += xs) {
      const p = Math.round(sx.getPixelForValue(v)) + 0.5;
      ctx.moveTo(p, bottom); ctx.lineTo(p, bottom - 2.5);
    }
    const minors = (scale: any, x0: number, dir: number) => {
      const tv = scale.ticks.map((t: any) => t.value);
      const st = tv[1] - tv[0];
      for (let v = tv[0] - st / 2; v <= scale.max + 1e-9; v += st) {
        if (v < scale.min - 1e-9) continue;
        const p = Math.round(scale.getPixelForValue(v)) + 0.5;
        ctx.moveTo(x0, p); ctx.lineTo(x0 + dir * 3, p);
      }
    };
    minors(sy, Math.round(a.left), -1);
    minors(sr, Math.round(a.right), 1);
    ctx.stroke();
    ctx.restore();
  },
};

function buildChart(canvas: HTMLCanvasElement, p: PanelCfg) {
  const pts = (a: number[], b: number[]) => [
    ...a.map((v, i) => ({ x: i * STEP_MS, y: v })),
    ...b.map((v, i) => ({ x: i * STEP_MS + STEP_MS / 2, y: v })),
  ];
  const line = (ts: number[], vs: number[]) => ts.map((t, i) => ({ x: t, y: vs[i] }));
  const tickFont = { family: FONT, size: 12 };
  const scatterStyle = { yAxisID: "y", pointRadius: 3.4, borderWidth: 0.9, backgroundColor: "rgba(0,0,0,0)", clip: 0 };
  return new Chart(canvas, {
    type: "scatter",
    data: {
      datasets: [
        { type: "line", label: "force", data: line(p.fT, p.fS), yAxisID: "y2", borderColor: "#000", borderWidth: 1.8, pointRadius: 0, cubicInterpolationMode: "monotone", order: 0 } as any,
        { type: "line", label: "force2", data: line(p.fT, p.fD), yAxisID: "y2", borderColor: "#000", borderWidth: 1.6, borderDash: [5, 3], pointRadius: 0, cubicInterpolationMode: "monotone", order: 0 } as any,
        { ...scatterStyle, label: SERIES_LABELS[1], data: pts(p.high, p.highB), borderColor: p.highColor, order: 1 } as any,
        { ...scatterStyle, label: SERIES_LABELS[0], data: pts(p.low, p.lowB), borderColor: GRAY, order: 2 } as any,
      ],
    },
    options: {
      animation: false,
      responsive: false,
      maintainAspectRatio: false,
      events: [],
      layout: { padding: { top: PAD_T, left: 0, right: 0, bottom: 0 } },
      plugins: { legend: { display: false }, tooltip: { enabled: false } },
      scales: {
        x: {
          type: "linear", position: "bottom", min: 0, max: 1000,
          afterFit: (s: any) => { s.height = PAD_B; },
          grid: { drawOnChartArea: false, drawTicks: false },
          border: { color: "#000", width: 1 },
          ticks: { stepSize: 200, padding: 6, color: "#1a1a1a", font: tickFont, maxRotation: 0, autoSkip: false, callback: (v: any) => String(v) },
        },
        y: {
          type: "linear", position: "left", min: p.yMin, max: p.yMax,
          afterFit: (s: any) => { s.width = PAD_L; },
          grid: { drawOnChartArea: false, tickLength: 5, color: "#000" },
          border: { color: "#000", width: 1 },
          ticks: { stepSize: p.yStep, includeBounds: false, padding: 3, color: "#1a1a1a", font: tickFont, callback: (v: any) => Number(v).toFixed(1) },
        },
        y2: {
          type: "linear", position: "right", min: -0.4, max: 2.2,
          afterFit: (s: any) => { s.width = PAD_R; },
          grid: { drawOnChartArea: false, tickLength: 4, color: "#000" },
          border: { color: "#000", width: 1 },
          ticks: { stepSize: 0.5, includeBounds: false, padding: 2, color: "#1a1a1a", font: tickFont, callback: (v: any) => Number(v).toFixed(1) },
        },
      },
    } as any,
    plugins: [decorPlugin],
  });
}

const abs = (o: React.CSSProperties): React.CSSProperties => ({ position: "absolute", ...o });

function Legend({ x, y, color }: { x: number; y: number; color: string }) {
  const circle = (cy: number, c: string) => (
    <span style={abs({ left: 11, top: cy - 3.5, width: 7, height: 7, border: `1px solid ${c}`, borderRadius: "50%", boxSizing: "border-box" })} />
  );
  const text = (cy: number, s: string) => (
    <span style={abs({ left: 30, top: cy - 7, lineHeight: "14px", whiteSpace: "nowrap" })}>{s}</span>
  );
  return (
    <div style={abs({ left: x, top: y, width: 67, height: 29, border: "1px solid #777", boxSizing: "border-box", background: "#fff", font: `11px ${FONT}`, color: "#111" })}>
      {circle(7, GRAY)}{text(7, SERIES_LABELS[0])}
      {circle(20, color)}{text(20, SERIES_LABELS[1])}
    </div>
  );
}

function VText({ cx, cy, children }: { cx: number; cy: number; children: React.ReactNode }) {
  return (
    <div style={abs({ left: cx, top: cy, transform: "translate(-50%,-50%) rotate(-90deg)", whiteSpace: "nowrap", font: `bold 12px ${FONT}`, color: "#111", lineHeight: "14px" })}>
      {children}
    </div>
  );
}

function HText({ cx, top, size, bold, children }: { cx: number; top: number; size: number; bold?: boolean; children: React.ReactNode }) {
  return (
    <div style={abs({ left: cx, top, transform: "translateX(-50%)", whiteSpace: "nowrap", font: `${bold ? "bold " : ""}${size}px ${FONT}`, lineHeight: 1, color: "#111" })}>
      {children}
    </div>
  );
}

const Sub = ({ s }: { s: string }) => <sub style={{ fontSize: "8px", verticalAlign: "-2px" }}>{s}</sub>;

export default function App() {
  const refs = useRef<(HTMLCanvasElement | null)[]>([]);
  useEffect(() => {
    const charts = PANELS.map((p, i) => buildChart(refs.current[i] as HTMLCanvasElement, p));
    return () => charts.forEach((c) => c.destroy());
  }, []);

  return (
    <div style={abs({ left: 0, top: 0, width: 638, height: 514, background: "#fff", overflow: "hidden" })}>
      {PANELS.map((p, i) => {
        const w = p.r - p.l + PAD_L + PAD_R;
        const h = p.b - p.t + PAD_T + PAD_B;
        return (
          <canvas
            key={p.id}
            ref={(el) => { refs.current[i] = el; }}
            width={w}
            height={h}
            style={abs({ left: p.l - PAD_L, top: p.t - PAD_T, width: w, height: h })}
          />
        );
      })}

      <HText cx={320} top={10} size={24}>PNP</HText>
      <HText cx={323} top={259} size={24}>NPN</HText>

      <div style={abs({ left: 53, top: 38, font: `13px ${FONT}`, color: "#111" })}>(a)</div>
      <div style={abs({ left: 363, top: 36, font: `13px ${FONT}`, color: "#111" })}>(b)</div>
      <div style={abs({ left: 53, top: 278, font: `13px ${FONT}`, color: "#111" })}>(c)</div>
      <div style={abs({ left: 363, top: 279, font: `13px ${FONT}`, color: "#111" })}>(d)</div>

      <HText cx={167} top={65} size={17}>N</HText>
      <HText cx={481} top={63} size={17}>P</HText>
      <HText cx={167} top={304} size={17}>N</HText>
      <HText cx={477} top={304} size={17}>P</HText>

      <Legend x={212} y={31} color={ORANGE} />
      <Legend x={531} y={28} color={ORANGE} />
      <Legend x={212} y={270} color={OLIVE} />
      <Legend x={531} y={270} color={OLIVE} />

      <VText cx={19} cy={151}>Intensity<Sub s="SUM" /> (a.u.)</VText>
      <VText cx={310} cy={155}>Force (N)</VText>
      <VText cx={330} cy={148}>Intensity<Sub s="SUM" /> (a.u.)</VText>
      <VText cx={630} cy={152}>Force (N)</VText>
      <VText cx={19} cy={392}>Intensity<Sub s="MAX" /> (a.u.)</VText>
      <VText cx={310} cy={392}>Force (N)</VText>
      <VText cx={328} cy={392}>Intensity<Sub s="MAX" /> (a.u.)</VText>
      <VText cx={630} cy={392}>Force (N)</VText>

      <HText cx={166} top={256} size={12} bold>Time (ms)</HText>
      <HText cx={480} top={257} size={12} bold>Time (ms)</HText>
      <HText cx={166} top={499} size={12} bold>Time (ms)</HText>
      <HText cx={480} top={501} size={12} bold>Time (ms)</HText>
    </div>
  );
}
